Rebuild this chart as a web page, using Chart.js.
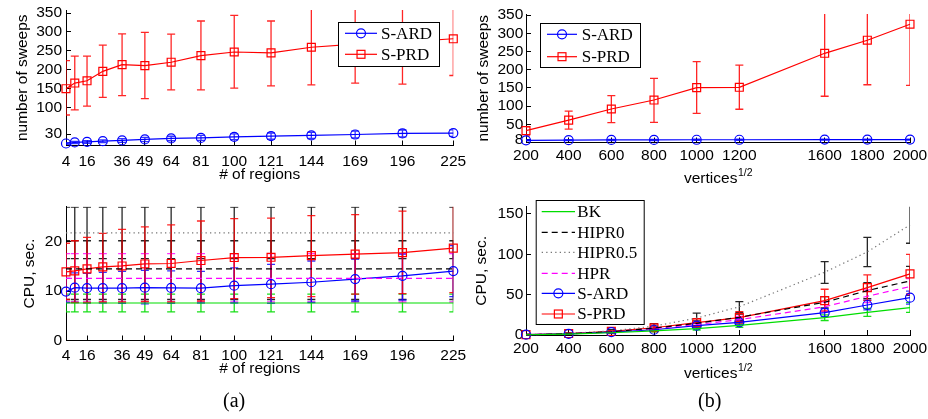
<!DOCTYPE html>
<html>
<head>
<meta charset="utf-8">
<script src="https://cdn.jsdelivr.net/npm/chart.js@4.4.1/dist/chart.umd.min.js"></script>
<style>
  body { margin: 0; background: #fff; }
  #wrap { position: relative; width: 928px; height: 419px; overflow: hidden; background: #fff; }
  canvas { position: absolute; }
  .cap { position: absolute; top: 389px; font-family: "Liberation Serif", serif; font-size: 20px; color: #000; }
</style>
</head>
<body>
<div id="wrap">
  <canvas id="c1" width="470" height="192" style="left:0;top:0"></canvas>
  <canvas id="c2" width="458" height="192" style="left:470px;top:0"></canvas>
  <canvas id="c3" width="470" height="227" style="left:0;top:192px"></canvas>
  <canvas id="c4" width="458" height="227" style="left:470px;top:192px"></canvas>
  <div class="cap" style="left:223px">(a)</div>
  <div class="cap" style="left:698px">(b)</div>
</div>
<script>
// ---- (a) number of regions ----
const regions = [4, 9, 16, 25, 36, 49, 64, 81, 100, 121, 144, 169, 196, 225];
const regionTicks = [4, 16, 36, 49, 64, 81, 100, 121, 144, 169, 196, 225];
const sweepTicksA = [30, 100, 150, 200, 250, 300, 350];
const cpuTicksA = [0, 10, 20];

const sweepsArdA = [5.3, 8, 9.6, 11.4, 13.3, 16, 18.6, 20, 23, 24.7, 26.6, 29, 32, 32.7];
const sweepsArdALo = [3, 5, 6, 7.5, 8.5, 10.5, 12.5, 13.5, 15.5, 16.5, 18.5, 20, 23, 24];
const sweepsArdAHi = [7.5, 11, 13, 15, 18, 21.5, 24.5, 26.5, 30.5, 33, 34.5, 38, 41, 41.5];
const sweepsPrdA = [150, 165, 171, 196, 213.6, 211, 220, 237.5, 247, 244.6, 259.6, 268, 273, 282];
const sweepsPrdALo = [80.6, 94, 104, 127, 132, 124, 147, 147, 151.6, 157.7, 160, 165, 162, 185];
const sweepsPrdAHi = [224, 236, 236, 265, 295, 299, 294, 329, 344, 329, 375, 380, 385, 379];

const cpuBkA = [7.6, 7.6, 7.6, 7.6, 7.6, 7.6, 7.6, 7.6, 7.6, 7.6, 7.6, 7.6, 7.6, 7.6];
const cpuBkALo = [5.8, 5.8, 5.8, 5.8, 5.8, 5.8, 5.8, 5.8, 5.8, 5.8, 5.8, 5.8, 5.8, 5.8];
const cpuBkAHi = [9.4, 9.4, 9.4, 9.4, 9.4, 9.4, 9.4, 9.4, 9.4, 9.4, 9.4, 9.4, 9.4, 9.4];
const cpuHipr0A = [14.5, 14.5, 14.5, 14.5, 14.5, 14.5, 14.5, 14.5, 14.5, 14.5, 14.5, 14.5, 14.5, 14.5];
const cpuHipr0ALo = [8.3, 8.3, 8.3, 8.3, 8.3, 8.3, 8.3, 8.3, 8.3, 8.3, 8.3, 8.3, 8.3, 8.3];
const cpuHipr0AHi = [20.2, 20.2, 20.2, 20.2, 20.2, 20.2, 20.2, 20.2, 20.2, 20.2, 20.2, 20.2, 20.2, 20.2];
const cpuHipr05A = [21.8, 21.8, 21.8, 21.8, 21.8, 21.8, 21.8, 21.8, 21.8, 21.8, 21.8, 21.8, 21.8, 21.8];
const cpuHipr05ALo = [16.6, 16.6, 16.6, 16.6, 16.6, 16.6, 16.6, 16.6, 16.6, 16.6, 16.6, 16.6, 16.6, 16.6];
const cpuHipr05AHi = [27, 27, 27, 27, 27, 27, 27, 27, 27, 27, 27, 27, 27, 27];
const cpuHprA = [12.6, 12.6, 12.6, 12.6, 12.6, 12.6, 12.6, 12.6, 12.6, 12.6, 12.6, 12.6, 12.6, 12.6];
const cpuHprALo = [7.8, 7.8, 7.8, 7.8, 7.8, 7.8, 7.8, 7.8, 7.8, 7.8, 7.8, 7.8, 7.8, 7.8];
const cpuHprAHi = [17.6, 17.6, 17.6, 17.6, 17.6, 17.6, 17.6, 17.6, 17.6, 17.6, 17.6, 17.6, 17.6, 17.6];
const cpuArdA = [9.9, 10.7, 10.6, 10.6, 10.6, 10.7, 10.65, 10.6, 11.1, 11.4, 11.8, 12.45, 13.1, 14.07];
const cpuArdALo = [7.7, 7.7, 7.6, 7.6, 7.5, 7.4, 7.5, 7.6, 7.6, 7.5, 7.7, 8.0, 8.2, 8.9];
const cpuArdAHi = [12.6, 13.7, 13.6, 13.8, 14.0, 14.2, 14.1, 14.0, 14.7, 15.4, 16.1, 16.5, 17.5, 19.2];
const cpuPrdA = [13.9, 14.1, 14.5, 14.9, 15.1, 15.5, 15.6, 16.2, 16.8, 16.85, 17.2, 17.5, 17.8, 18.7];
const cpuPrdALo = [8.3, 7.7, 7.7, 7.8, 7.8, 7.9, 7.8, 8.0, 8.5, 8.7, 8.9, 9.4, 9.5, 9.7];
const cpuPrdAHi = [19.7, 20.2, 20.9, 21.7, 22.5, 23.0, 23.4, 24.2, 24.7, 24.8, 25.3, 25.5, 26.2, 27.5];

// ---- (b) vertices^(1/2) ----
const vertices = [200, 400, 600, 800, 1000, 1200, 1600, 1800, 2000];
const vertexTicks = [200, 400, 600, 800, 1000, 1200, 1600, 1800, 2000];
const sweepTicksB = [8, 50, 100, 150, 200, 250, 300, 350];
const cpuTicksB = [0, 50, 100, 150];

const sweepsArdB = [6, 6.5, 7, 7, 7.5, 7.5, 8, 8, 8];
const sweepsArdBLo = [4.5, 5, 5.5, 5.5, 6, 6, 6.5, 6.5, 6.5];
const sweepsArdBHi = [7.5, 8, 8.5, 8.5, 9, 9, 9.5, 9.5, 9.5];
const sweepsPrdB = [32.5, 61.5, 92, 116.7, 150.6, 151.7, 245, 281, 325];
const sweepsPrdBLo = [18, 37, 54.4, 55.4, 80, 91.4, 127, 158.6, 157];
const sweepsPrdBHi = [43, 86, 128.5, 176, 222, 212.7, 380, 380, 380];

const cpuBkB = [0.3, 1.2, 2.8, 5, 8, 12, 21.5, 28, 34];
const cpuBkBLo = [0.1, 0.8, 2, 3.8, 6.2, 9.5, 18, 23, 28];
const cpuBkBHi = [0.5, 1.6, 3.6, 6.2, 9.8, 14.5, 25, 33, 40];
const cpuHipr0B = [0.3, 1.5, 4, 8.5, 14.5, 22, 40.6, 55, 67];
const cpuHipr0BLo = [0.1, 0.9, 2.8, 6.5, 11.5, 18, 33.6, 45, 49];
const cpuHipr0BHi = [0.6, 2.1, 5.2, 10.5, 17.5, 26, 47.6, 65, 85];
const cpuHipr05B = [0.5, 2, 5, 11, 21, 35, 77.8, 103, 136.5];
const cpuHipr05BLo = [0.3, 1.5, 3.8, 8, 15, 28, 64, 84.7, 113.7];
const cpuHipr05BHi = [0.7, 2.5, 6.5, 14, 27, 41.3, 91, 121, 165];
const cpuHprB = [0.3, 1.3, 4, 8, 13, 19, 35, 48, 60];
const cpuHprBLo = [0.1, 0.8, 3, 6, 10, 15, 29, 40, 50];
const cpuHprBHi = [0.5, 1.8, 5, 10, 16, 23, 41, 56, 70];
const cpuArdB = [0.4, 1.5, 3.5, 6.5, 11.6, 15.7, 27.7, 37.2, 46.3];
const cpuArdBLo = [0.2, 1, 2.5, 5, 9.1, 12.7, 22.7, 31.2, 38.3];
const cpuArdBHi = [0.6, 2, 4.5, 8, 14.1, 18.7, 32.7, 43.2, 54.3];
const cpuPrdB = [0.5, 1.8, 4.5, 9, 15.4, 21.5, 42.6, 58.7, 75.7];
const cpuPrdBLo = [0.3, 1.2, 3.5, 6.5, 11, 15, 30, 43, 51];
const cpuPrdBHi = [0.7, 2.4, 5.5, 12, 20, 29, 56.7, 74.4, 100];

// ---- plugins ----
const errorBars = {
  id: 'errorBars',
  beforeDatasetsDraw(chart) {
    const { ctx, chartArea: a, scales: { x, y } } = chart;
    ctx.save();
    ctx.beginPath();
    ctx.rect(a.left, a.top, a.right - a.left, a.bottom - a.top);
    ctx.clip();
    chart.data.datasets.forEach(ds => {
      if (!ds.errLo) return;
      ctx.strokeStyle = ds.errColor || ds.borderColor;
      ctx.lineWidth = 1.3;
      ctx.setLineDash([]);
      ds.data.forEach((p, i) => {
        const px = x.getPixelForValue(p.x);
        const lo = y.getPixelForValue(ds.errLo[i]);
        const hi = y.getPixelForValue(ds.errHi[i]);
        const c = 4;
        ctx.beginPath();
        ctx.moveTo(px, lo); ctx.lineTo(px, hi);
        ctx.moveTo(px - c, lo); ctx.lineTo(px + c, lo);
        ctx.moveTo(px - c, hi); ctx.lineTo(px + c, hi);
        ctx.stroke();
      });
    });
    ctx.restore();
  }
};

const boxLegend = {
  id: 'boxLegend',
  afterDraw(chart, args, o) {
    if (!o || !o.rows) return;
    const ctx = chart.ctx;
    ctx.save();
    ctx.fillStyle = '#fff';
    ctx.fillRect(o.x, o.y, o.w, o.h);
    ctx.strokeStyle = '#000';
    ctx.lineWidth = 1;
    ctx.strokeRect(o.x + 0.5, o.y + 0.5, o.w, o.h);
    ctx.font = '17px "Liberation Serif", serif';
    ctx.textBaseline = 'middle';
    chart.data.datasets.forEach((ds, i) => {
      const ry = o.rows[i];
      ctx.strokeStyle = ds.borderColor;
      ctx.lineWidth = ds.borderWidth;
      ctx.setLineDash(ds.borderDash || []);
      ctx.beginPath();
      ctx.moveTo(o.x0, ry); ctx.lineTo(o.x1, ry);
      ctx.stroke();
      ctx.setLineDash([]);
      const mx = (o.x0 + o.x1) / 2;
      if (ds.pointStyle === 'circle' && ds.pointRadius > 0) {
        ctx.beginPath(); ctx.arc(mx, ry, ds.pointRadius, 0, Math.PI * 2); ctx.stroke();
      } else if (ds.pointStyle === 'rect' && ds.pointRadius > 0) {
        const s = ds.pointRadius * Math.SQRT1_2;
        ctx.strokeRect(mx - s, ry - s, 2 * s, 2 * s);
      }
      ctx.fillStyle = '#000';
      ctx.fillText(ds.label, o.tx, ry + 1);
    });
    ctx.restore();
  }
};

const supTitle = {
  id: 'supTitle',
  afterDraw(chart, args, o) {
    if (!o || !o.text) return;
    const { ctx, chartArea: a } = chart;
    ctx.save();
    ctx.fillStyle = '#000';
    ctx.textAlign = 'left';
    ctx.textBaseline = 'alphabetic';
    ctx.font = '15.5px "Liberation Sans", sans-serif';
    const w1 = ctx.measureText(o.text).width;
    ctx.font = '10.5px "Liberation Sans", sans-serif';
    const w2 = ctx.measureText(o.sup).width;
    const x0 = (a.left + a.right) / 2 - (w1 + w2) / 2;
    ctx.font = '15.5px "Liberation Sans", sans-serif';
    ctx.fillText(o.text, x0, o.y);
    ctx.font = '10.5px "Liberation Sans", sans-serif';
    ctx.fillText(o.sup, x0 + w1 + 0.5, o.y - 7);
    ctx.restore();
  }
};

Chart.register(errorBars, boxLegend, supTitle);

const tickFont = { family: '"Liberation Sans", sans-serif', size: 15.5 };
const titleFont = { family: '"Liberation Sans", sans-serif', size: 15.5 };

function series(label, xs, ys, lo, hi, style) {
  return Object.assign({
    label,
    data: xs.map((v, i) => ({ x: v, y: ys[i] })),
    errLo: lo, errHi: hi,
    borderWidth: 1.2,
    pointRadius: 0,
    pointBorderWidth: 1.2,
    pointBackgroundColor: 'rgba(0,0,0,0)',
    tension: 0,
    clip: false
  }, style);
}

const st = {
  bk: { borderColor: '#00dd00', errColor: 'rgba(0,220,0,0.9)' },
  hipr0: { borderColor: '#000', borderDash: [6, 4], errColor: 'rgba(0,0,0,0.85)' },
  hipr05: { borderColor: '#777', borderDash: [1.3, 3.2], errColor: 'rgba(0,0,0,0.85)' },
  hpr: { borderColor: '#ff00ff', borderDash: [6, 4], errColor: 'rgba(255,0,255,0.8)' },
  ard: { borderColor: '#0000ff', pointStyle: 'circle', pointRadius: 4.5, pointBorderColor: '#0000ff', errColor: 'rgba(0,0,255,0.8)' },
  prd: { borderColor: '#ff0000', pointStyle: 'rect', pointRadius: 5.6, pointBorderColor: '#ff0000', errColor: 'rgba(255,0,0,0.85)' }
};

function makeChart(id, cfg) {
  const xScale = {
    type: 'linear', min: cfg.xMin, max: cfg.xMax,
    afterBuildTicks: s => { s.ticks = cfg.xTicks.map(v => ({ value: v })); },
    afterFit: s => { s.height = cfg.xH; s.paddingLeft = 0; s.paddingRight = 0; },
    grid: { display: true, drawOnChartArea: false, drawTicks: true, tickLength: -5, color: '#000', tickColor: '#000' },
    border: { display: true, color: '#000', width: 1 },
    ticks: { color: '#000', font: tickFont, padding: cfg.xPad, maxRotation: 0, autoSkip: false, callback: v => String(v) },
    title: cfg.xTitle
      ? { display: true, text: cfg.xTitle, color: '#000', font: titleFont, padding: { top: 0, bottom: cfg.xTitlePad } }
      : { display: false }
  };
  const yScale = {
    type: 'linear', min: cfg.yMin, max: cfg.yMax,
    afterBuildTicks: s => { s.ticks = cfg.yTicks.map(v => ({ value: v })); },
    afterFit: s => { s.width = cfg.yW; s.paddingTop = 0; s.paddingBottom = 0; },
    grid: { display: true, drawOnChartArea: false, drawTicks: true, tickLength: -5, color: '#000', tickColor: '#000' },
    border: { display: true, color: '#000', width: 1 },
    ticks: { color: '#000', font: tickFont, padding: cfg.yPad, autoSkip: false, callback: v => String(v) },
    title: { display: true, text: cfg.yTitle, color: '#000', font: titleFont, padding: { top: cfg.yTitlePad, bottom: 0 } }
  };
  return new Chart(document.getElementById(id), {
    type: 'line',
    data: { datasets: cfg.datasets },
    options: {
      responsive: false,
      animation: false,
      events: [],
      layout: { padding: { left: 0, top: cfg.top, right: cfg.right, bottom: 0 } },
      scales: { x: xScale, y: yScale },
      plugins: {
        legend: { display: false },
        tooltip: { enabled: false },
        boxLegend: cfg.legend || {},
        supTitle: cfg.sup || {}
      }
    }
  });
}

// top left: sweeps vs regions
makeChart('c1', {
  xMin: 4, xMax: 225, xTicks: regionTicks, xH: 46.5, xPad: 12, xTitle: '# of regions', xTitlePad: 7.7,
  yMin: 0, yMax: 358, yTicks: sweepTicksA, yW: 66, yPad: 9, yTitle: 'number of sweeps', yTitlePad: 13.4,
  top: 10, right: 16.7,
  datasets: [
    series('S-ARD', regions, sweepsArdA, sweepsArdALo, sweepsArdAHi, st.ard),
    series('S-PRD', regions, sweepsPrdA, sweepsPrdALo, sweepsPrdAHi, st.prd)
  ],
  legend: { x: 338, y: 22, w: 101, h: 44, rows: [33.3, 54.3], x0: 345, x1: 377, tx: 381 }
});

// top right: sweeps vs vertices
makeChart('c2', {
  xMin: 200, xMax: 2000, xTicks: vertexTicks, xH: 49.5, xPad: 9,
  yMin: 0, yMax: 353, yTicks: sweepTicksB, yW: 56, yPad: 7.7, yTitle: 'number of sweeps', yTitlePad: 4.5,
  top: 14, right: 18,
  datasets: [
    series('S-ARD', vertices, sweepsArdB, sweepsArdBLo, sweepsArdBHi, st.ard),
    series('S-PRD', vertices, sweepsPrdB, sweepsPrdBLo, sweepsPrdBHi, st.prd)
  ],
  legend: { x: 70, y: 23, w: 100, h: 44, rows: [34.3, 56.7], x0: 77, x1: 107, tx: 111.7 },
  sup: { text: 'vertices', sup: '1/2', y: 183 }
});

// bottom left: CPU vs regions
makeChart('c3', {
  xMin: 4, xMax: 225, xTicks: regionTicks, xH: 78.5, xPad: 10.5, xTitle: '# of regions', xTitlePad: 41.4,
  yMin: 0, yMax: 27.1, yTicks: cpuTicksA, yW: 66, yPad: 9, yTitle: 'CPU, sec.', yTitlePad: 20.7,
  top: 14.7, right: 16.7,
  datasets: [
    series('BK', regions, cpuBkA, cpuBkALo, cpuBkAHi, st.bk),
    series('HIPR0', regions, cpuHipr0A, cpuHipr0ALo, cpuHipr0AHi, st.hipr0),
    series('HIPR0.5', regions, cpuHipr05A, cpuHipr05ALo, cpuHipr05AHi, st.hipr05),
    series('HPR', regions, cpuHprA, cpuHprALo, cpuHprAHi, st.hpr),
    series('S-ARD', regions, cpuArdA, cpuArdALo, cpuArdAHi, st.ard),
    series('S-PRD', regions, cpuPrdA, cpuPrdALo, cpuPrdAHi, st.prd)
  ]
});

// bottom right: CPU vs vertices
makeChart('c4', {
  xMin: 200, xMax: 2000, xTicks: vertexTicks, xH: 84, xPad: 9,
  yMin: 0, yMax: 159, yTicks: cpuTicksB, yW: 56, yPad: 7.7, yTitle: 'CPU, sec.', yTitlePad: 2.2,
  top: 14.7, right: 18,
  datasets: [
    series('BK', vertices, cpuBkB, cpuBkBLo, cpuBkBHi, st.bk),
    series('HIPR0', vertices, cpuHipr0B, cpuHipr0BLo, cpuHipr0BHi, st.hipr0),
    series('HIPR0.5', vertices, cpuHipr05B, cpuHipr05BLo, cpuHipr05BHi, st.hipr05),
    series('HPR', vertices, cpuHprB, cpuHprBLo, cpuHprBHi, st.hpr),
    series('S-ARD', vertices, cpuArdB, cpuArdBLo, cpuArdBHi, st.ard),
    series('S-PRD', vertices, cpuPrdB, cpuPrdBLo, cpuPrdBHi, st.prd)
  ],
  legend: { x: 65.7, y: 8, w: 108, h: 124, rows: [19.7, 40.3, 60.3, 81.3, 101.3, 122], x0: 71.7, x1: 105, tx: 107.3 },
  sup: { text: 'vertices', sup: '1/2', y: 186 }
});
</script>
</body>
</html>
